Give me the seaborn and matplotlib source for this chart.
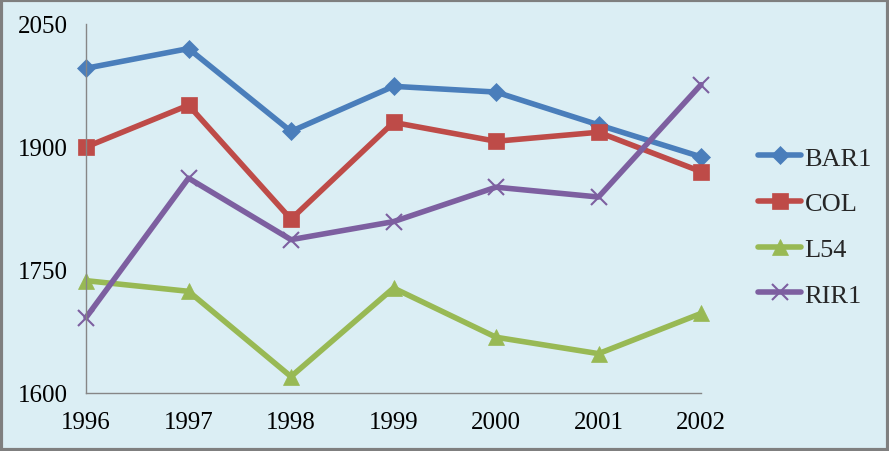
import matplotlib
matplotlib.use("Agg")
import matplotlib.pyplot as plt
import seaborn as sns
import pandas as pd
from matplotlib.patches import Rectangle

years = [1996, 1997, 1998, 1999, 2000, 2001, 2002]
bar1 = [1996, 2020, 1919, 1974, 1967, 1927, 1888]
col = [1900, 1951, 1812, 1930, 1907, 1918, 1870]
l54 = [1737, 1724, 1620, 1728, 1668, 1648, 1697]
rir1 = [1692, 1862, 1787, 1809, 1851, 1839, 1976]
series_names = ["BAR1", "COL", "L54", "RIR1"]
yticks = [1600, 1750, 1900, 2050]

colors = ["#4A7EBB", "#BE4B48", "#98B954", "#7D5FA0"]
markers = ["D", "s", "^", "x"]
msizes = [9, 12, 12, 12]

sns.set_style("white")
plt.rcParams["font.family"] = ["Liberation Serif", "DejaVu Serif"]

df = pd.DataFrame({
    "year": years * 4,
    "value": bar1 + col + l54 + rir1,
    "series": sum([[n] * len(years) for n in series_names], []),
})

bg = "#DBEEF4"
fig = plt.figure(figsize=(8.89, 4.52), dpi=100, facecolor=bg)
ax = fig.add_axes([86 / 889, 1 - 394 / 452, (701 - 86) / 889, (394 - 25) / 452])
ax.set_facecolor(bg)

for name, c, m, ms in zip(series_names, colors, markers, msizes):
    sub = df[df["series"] == name]
    sns.lineplot(data=sub, x="year", y="value", ax=ax, color=c, marker=m,
                 markersize=ms, linewidth=4, markeredgecolor=c,
                 markeredgewidth=1.5 if m == "x" else 0.5, label=name, clip_on=False)

ax.set_xlim(1996, 2002)
ax.set_ylim(1600, 2050)
ax.set_xticks(years)
ax.set_xticklabels([str(y) for y in years])
ax.set_yticks(yticks)
ax.set_yticklabels([str(y) for y in yticks])
ax.set_xlabel("")
ax.set_ylabel("")
for s in ["top", "right"]:
    ax.spines[s].set_visible(False)
for s in ["left", "bottom"]:
    ax.spines[s].set_color("#868686")
    ax.spines[s].set_linewidth(1)
ax.tick_params(axis="both", which="major", direction="out", length=6, width=1,
               color="#868686", labelsize=18, labelcolor="black")
ax.tick_params(axis="x", pad=7)
ax.tick_params(axis="y", pad=7)

leg = ax.legend(loc="center left", bbox_to_anchor=(734 / 889, 0.497),
                bbox_transform=fig.transFigure, frameon=False, fontsize=19,
                handlelength=1.65, handletextpad=0.12, labelspacing=0.84)

fig.patches.append(Rectangle((0.0015, 0.003), 0.997, 0.994, transform=fig.transFigure,
                             fill=False, edgecolor="#7F7F7F", linewidth=3))

fig.savefig("out.png", dpi=100, facecolor=bg)
